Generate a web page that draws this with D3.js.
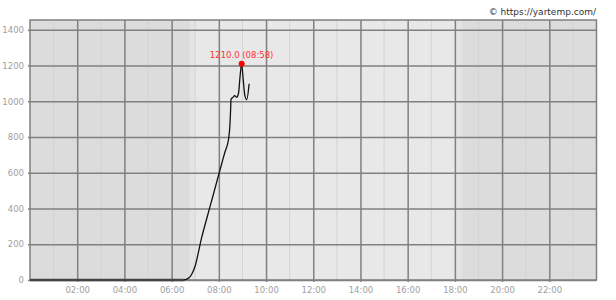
<!DOCTYPE html>
<html>
<head>
<meta charset="utf-8">
<script src="https://cdn.jsdelivr.net/npm/d3@7"></script>
<style>
  body { margin: 0; background: #fff; }
  text { font-family: "DejaVu Sans", Verdana, sans-serif; }
</style>
</head>
<body>
<svg width="616" height="300"></svg>
<script>
// temperature readings over the day
const times = ["00:00", "02:00", "04:00", "06:00", "06:30", "06:40",
  "06:50", "07:00", "07:15", "07:30", "07:45", "08:00", "08:15", "08:25",
  "08:28", "08:30", "08:31", "08:36", "08:40", "08:45", "08:50", "08:54",
  "08:58", "09:02", "09:06", "09:11", "09:17"];
const values = [0, 0, 0, 0, 0, 6,
  28, 80, 225, 350, 470, 592, 712, 792,
  860, 955, 1012, 1022, 1032, 1022, 1045, 1140,
  1210, 1120, 1035, 1010, 1098];

// day / twilight / night bands
const bandStarts = ["00:00", "06:47", "07:00", "18:01", "18:16"];
const bandEnds = ["06:47", "07:00", "18:01", "18:16", "24:00"];
const bandKinds = ["night", "twilight", "day", "twilight", "night"];

const yTicks = [0, 200, 400, 600, 800, 1000, 1200, 1400];
const xTickLabels = ["02:00", "04:00", "06:00", "08:00", "10:00", "12:00",
  "14:00", "16:00", "18:00", "20:00", "22:00"];
const credit = "© https://yartemp.com/";

const toHours = (s) => {
  const [h, m] = s.split(":").map(Number);
  return h + m / 60;
};

const bandFill = { night: "#dcdcdc", twilight: "#e3e3e3", day: "#e8e8e8" };
const gridDark = "#808080",
  gridLight = "#d3d3d3",
  labelGrey = "#a0a0a0";

const svg = d3.select("svg");

// scales
const xScale = d3.scaleLinear().domain([0, 24]).range([30, 596.5]);
const yScale = d3.scaleLinear().domain([0, 1455]).range([280, 20]);

// background bands
svg.append("g")
  .selectAll("rect")
  .data(bandKinds)
  .enter()
  .append("rect")
  .attr("x", (d, i) => xScale(toHours(bandStarts[i])))
  .attr("width", (d, i) => xScale(toHours(bandEnds[i])) - xScale(toHours(bandStarts[i])))
  .attr("y", yScale.range()[1])
  .attr("height", yScale.range()[0] - yScale.range()[1])
  .style("fill", (d) => bandFill[d]);

// minor vertical grid (odd hours)
svg.append("g")
  .selectAll("line")
  .data(d3.range(1, 24, 2))
  .enter()
  .append("line")
  .attr("x1", (d) => xScale(d))
  .attr("x2", (d) => xScale(d))
  .attr("y1", 20)
  .attr("y2", 280)
  .style("stroke", gridLight)
  .style("stroke-width", 1);

// major vertical grid + x axis
const xAxis = d3.axisBottom(xScale)
  .tickValues(xTickLabels.map(toHours))
  .tickFormat((d, i) => xTickLabels[i])
  .tickSize(-262)
  .tickPadding(5);
const xg = svg.append("g").attr("id", "xAxisG")
  .attr("transform", "translate(0,282)")
  .call(xAxis);
xg.select("path.domain").remove();
xg.selectAll("line").style("stroke", gridDark).style("stroke-width", 1.5);
xg.selectAll("text").style("fill", labelGrey).style("font-size", "8.5px");

// horizontal grid + y axis
const yAxis = d3.axisLeft(yScale)
  .tickValues(yTicks)
  .tickFormat(d3.format("d"))
  .tickSize(-568.5)
  .tickPadding(4);
const yg = svg.append("g").attr("id", "yAxisG")
  .attr("transform", "translate(28,0)")
  .call(yAxis);
yg.select("path.domain").remove();
yg.selectAll("line").style("stroke", gridDark).style("stroke-width", 1.5);
yg.selectAll("text").style("fill", labelGrey).style("font-size", "8.5px");

// plot border
svg.append("rect")
  .attr("x", xScale(0))
  .attr("y", yScale.range()[1])
  .attr("width", xScale(24) - xScale(0))
  .attr("height", yScale.range()[0] - yScale.range()[1])
  .style("fill", "none")
  .style("stroke", gridDark)
  .style("stroke-width", 1.5);

// temperature line
const points = times.map((t, i) => ({ t: toHours(t), v: values[i] }));
const line = d3.line()
  .x((d) => xScale(d.t))
  .y((d) => yScale(d.v))
  .curve(d3.curveMonotoneX);
svg.append("path")
  .datum(points)
  .attr("d", line)
  .style("fill", "none")
  .style("stroke", "#111")
  .style("stroke-width", 1.3);

// thicker base where it sits on zero
svg.append("line")
  .attr("x1", xScale(0))
  .attr("x2", xScale(toHours("06:30")))
  .attr("y1", yScale(0))
  .attr("y2", yScale(0))
  .style("stroke", "#444")
  .style("stroke-width", 2.5);

// maximum marker
const maxIdx = d3.maxIndex(values);
const maxPt = points[maxIdx];
svg.append("circle")
  .attr("cx", xScale(maxPt.t))
  .attr("cy", yScale(maxPt.v))
  .attr("r", 3)
  .style("fill", "#ff0000");
svg.append("text")
  .attr("x", xScale(maxPt.t))
  .attr("y", yScale(maxPt.v) - 6)
  .attr("text-anchor", "middle")
  .style("fill", "#ff3333")
  .style("font-size", "8.5px")
  .text(values[maxIdx].toFixed(1) + " (" + times[maxIdx] + ")");

// credit
svg.append("text")
  .attr("x", 596)
  .attr("y", 15)
  .attr("text-anchor", "end")
  .style("fill", "#333")
  .style("font-size", "9px")
  .text(credit);
</script>
</body>
</html>
